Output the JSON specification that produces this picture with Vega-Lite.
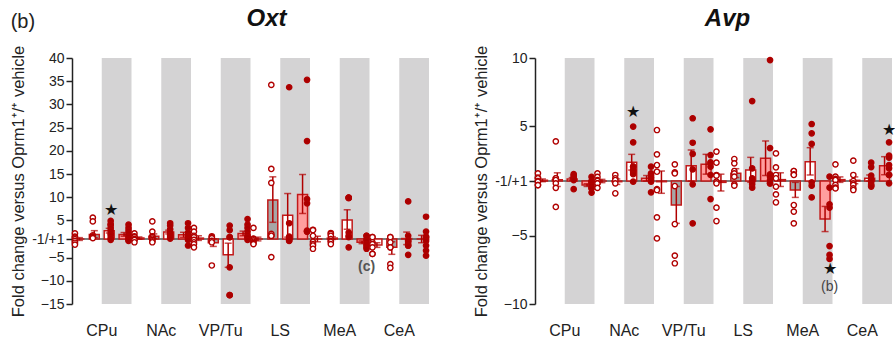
{
  "$schema": "https://vega.github.io/schema/vega-lite/v6.json",
  "background": "white",
  "padding": {"left": 10, "right": 0, "top": 7, "bottom": 0},
  "title": {"text": "(b)", "anchor": "start", "frame": "bounds", "fontSize": 20, "fontWeight": "normal", "color": "#222", "offset": 0, "dy": 25, "dx": 0},
  "spacing": 41,
  "config": {
    "font": "Liberation Sans",
    "view": {"stroke": null},
    "axisY": {"domainColor": "#222", "domainWidth": 1.5, "tickColor": "#222", "tickWidth": 1.5, "tickSize": 6, "tickCount": 30, "labelFontSize": 14, "labelColor": "#222", "labelPadding": 2, "labelOverlap": false, "titleFontSize": 16.5, "titleFontWeight": "normal", "titleColor": "#222", "titlePadding": 5, "grid": false},
    "axisX": {"domain": false, "ticks": false, "labelFontSize": 16, "labelColor": "#222", "labelPadding": 18, "labelAngle": 0, "grid": false}
  },
  "datasets": {
    "bands": [
      {"region": "CPu", "half": "g"}, {"region": "NAc", "half": "g"}, {"region": "VP/Tu", "half": "g"},
      {"region": "LS", "half": "g"}, {"region": "MeA", "half": "g"}, {"region": "CeA", "half": "g"}
    ],
    "oxt_bars": [
      {"region": "CPu", "cond": "c1", "mean": 0, "lo": -0.3, "hi": 0.3},
      {"region": "CPu", "cond": "c2", "mean": 1.0, "lo": 0.3, "hi": 1.8},
      {"region": "CPu", "cond": "c3", "mean": 1.8, "lo": 1.3, "hi": 2.3},
      {"region": "CPu", "cond": "c4", "mean": 1.0, "lo": 0.6, "hi": 1.4},
      {"region": "NAc", "cond": "c1", "mean": 0.2, "lo": -0.05, "hi": 0.45},
      {"region": "NAc", "cond": "c2", "mean": 0.6, "lo": 0.1, "hi": 1.1},
      {"region": "NAc", "cond": "c3", "mean": 1.5, "lo": 1.1, "hi": 1.9},
      {"region": "NAc", "cond": "c4", "mean": 0.9, "lo": 0.35, "hi": 1.45},
      {"region": "VP/Tu", "cond": "c1", "mean": 0.2, "lo": -0.3, "hi": 0.7},
      {"region": "VP/Tu", "cond": "c2", "mean": -0.8, "lo": -1.6, "hi": 0},
      {"region": "VP/Tu", "cond": "c3", "mean": -3.4, "lo": -6.1, "hi": -0.9},
      {"region": "VP/Tu", "cond": "c4", "mean": 1.2, "lo": 0.7, "hi": 1.7},
      {"region": "LS", "cond": "c1", "mean": 0, "lo": -0.4, "hi": 0.4},
      {"region": "LS", "cond": "c2", "mean": 8.4, "lo": 3.6, "hi": 13.4},
      {"region": "LS", "cond": "c3", "mean": 5.1, "lo": 0.4, "hi": 9.8},
      {"region": "LS", "cond": "c4", "mean": 9.6, "lo": 5.5, "hi": 13.9},
      {"region": "MeA", "cond": "c1", "mean": 0, "lo": -0.6, "hi": 0.6},
      {"region": "MeA", "cond": "c2", "mean": 0.2, "lo": -0.1, "hi": 0.5},
      {"region": "MeA", "cond": "c3", "mean": 4.1, "lo": 2.1, "hi": 6.3},
      {"region": "MeA", "cond": "c4", "mean": -0.7, "lo": -1.0, "hi": -0.4},
      {"region": "CeA", "cond": "c1", "mean": -1.3, "lo": -1.8, "hi": -0.8},
      {"region": "CeA", "cond": "c2", "mean": -1.8, "lo": -3.3, "hi": -0.6},
      {"region": "CeA", "cond": "c3", "mean": 0.1, "lo": -1.2, "hi": 1.5},
      {"region": "CeA", "cond": "c4", "mean": 0, "lo": -0.8, "hi": 0.8}
    ],
    "oxt_points": [
      {"region": "CPu", "cond": "c1", "value": 1.2}, {"region": "CPu", "cond": "c1", "value": 0.5}, {"region": "CPu", "cond": "c1", "value": 0.3}, {"region": "CPu", "cond": "c1", "value": 0}, {"region": "CPu", "cond": "c1", "value": -0.4}, {"region": "CPu", "cond": "c1", "value": -0.8}, {"region": "CPu", "cond": "c1", "value": -1.2},
      {"region": "CPu", "cond": "c2", "value": 4.6}, {"region": "CPu", "cond": "c2", "value": 3.8}, {"region": "CPu", "cond": "c2", "value": 0.8}, {"region": "CPu", "cond": "c2", "value": 0.6}, {"region": "CPu", "cond": "c2", "value": 0.4}, {"region": "CPu", "cond": "c2", "value": 0.3}, {"region": "CPu", "cond": "c2", "value": 0.2},
      {"region": "CPu", "cond": "c3", "value": 3.9}, {"region": "CPu", "cond": "c3", "value": 3.2}, {"region": "CPu", "cond": "c3", "value": 3.0}, {"region": "CPu", "cond": "c3", "value": 2.4}, {"region": "CPu", "cond": "c3", "value": 1.8}, {"region": "CPu", "cond": "c3", "value": 1.2}, {"region": "CPu", "cond": "c3", "value": 0.8}, {"region": "CPu", "cond": "c3", "value": 0.2}, {"region": "CPu", "cond": "c3", "value": -0.2},
      {"region": "CPu", "cond": "c4", "value": 3.1}, {"region": "CPu", "cond": "c4", "value": 2.4}, {"region": "CPu", "cond": "c4", "value": 1.8}, {"region": "CPu", "cond": "c4", "value": 1.2}, {"region": "CPu", "cond": "c4", "value": 0.7}, {"region": "CPu", "cond": "c4", "value": 0.4}, {"region": "CPu", "cond": "c4", "value": 0}, {"region": "CPu", "cond": "c4", "value": -0.2}, {"region": "CPu", "cond": "c4", "value": -0.4},
      {"region": "NAc", "cond": "c1", "value": 1.2}, {"region": "NAc", "cond": "c1", "value": 0.6}, {"region": "NAc", "cond": "c1", "value": 0.4}, {"region": "NAc", "cond": "c1", "value": 0}, {"region": "NAc", "cond": "c1", "value": 0}, {"region": "NAc", "cond": "c1", "value": -0.2}, {"region": "NAc", "cond": "c1", "value": -0.7},
      {"region": "NAc", "cond": "c2", "value": 3.8}, {"region": "NAc", "cond": "c2", "value": 1.6}, {"region": "NAc", "cond": "c2", "value": 0.6}, {"region": "NAc", "cond": "c2", "value": 0.4}, {"region": "NAc", "cond": "c2", "value": 0.1}, {"region": "NAc", "cond": "c2", "value": -0.2}, {"region": "NAc", "cond": "c2", "value": -0.5}, {"region": "NAc", "cond": "c2", "value": -0.7},
      {"region": "NAc", "cond": "c3", "value": 3.4}, {"region": "NAc", "cond": "c3", "value": 2.9}, {"region": "NAc", "cond": "c3", "value": 2.1}, {"region": "NAc", "cond": "c3", "value": 1.4}, {"region": "NAc", "cond": "c3", "value": 0.9}, {"region": "NAc", "cond": "c3", "value": 0.7}, {"region": "NAc", "cond": "c3", "value": 0.4}, {"region": "NAc", "cond": "c3", "value": 0.1},
      {"region": "NAc", "cond": "c4", "value": 3.4}, {"region": "NAc", "cond": "c4", "value": 2.4}, {"region": "NAc", "cond": "c4", "value": 1.4}, {"region": "NAc", "cond": "c4", "value": 0.7}, {"region": "NAc", "cond": "c4", "value": 0.4}, {"region": "NAc", "cond": "c4", "value": 0.1}, {"region": "NAc", "cond": "c4", "value": -0.2}, {"region": "NAc", "cond": "c4", "value": -1.4},
      {"region": "VP/Tu", "cond": "c1", "value": 2.4}, {"region": "VP/Tu", "cond": "c1", "value": 1.6}, {"region": "VP/Tu", "cond": "c1", "value": 0.7}, {"region": "VP/Tu", "cond": "c1", "value": 0.4}, {"region": "VP/Tu", "cond": "c1", "value": -0.2}, {"region": "VP/Tu", "cond": "c1", "value": -0.7}, {"region": "VP/Tu", "cond": "c1", "value": -1.1}, {"region": "VP/Tu", "cond": "c1", "value": -1.8},
      {"region": "VP/Tu", "cond": "c2", "value": 0.6}, {"region": "VP/Tu", "cond": "c2", "value": 0.4}, {"region": "VP/Tu", "cond": "c2", "value": 0.2}, {"region": "VP/Tu", "cond": "c2", "value": -0.4}, {"region": "VP/Tu", "cond": "c2", "value": -0.7}, {"region": "VP/Tu", "cond": "c2", "value": -5.7},
      {"region": "VP/Tu", "cond": "c3", "value": 2.9}, {"region": "VP/Tu", "cond": "c3", "value": 1.9}, {"region": "VP/Tu", "cond": "c3", "value": 0.4}, {"region": "VP/Tu", "cond": "c3", "value": 0.4}, {"region": "VP/Tu", "cond": "c3", "value": -6.1}, {"region": "VP/Tu", "cond": "c3", "value": -12.1}, {"region": "VP/Tu", "cond": "c3", "value": -12.1},
      {"region": "VP/Tu", "cond": "c4", "value": 4.3}, {"region": "VP/Tu", "cond": "c4", "value": 3.1}, {"region": "VP/Tu", "cond": "c4", "value": 2.4}, {"region": "VP/Tu", "cond": "c4", "value": 1.6}, {"region": "VP/Tu", "cond": "c4", "value": 0.9}, {"region": "VP/Tu", "cond": "c4", "value": 0.4}, {"region": "VP/Tu", "cond": "c4", "value": 0.4}, {"region": "VP/Tu", "cond": "c4", "value": -0.2},
      {"region": "LS", "cond": "c1", "value": 2.4}, {"region": "LS", "cond": "c1", "value": 0.1}, {"region": "LS", "cond": "c1", "value": 0}, {"region": "LS", "cond": "c1", "value": -0.3}, {"region": "LS", "cond": "c1", "value": -0.6}, {"region": "LS", "cond": "c1", "value": -0.9}, {"region": "LS", "cond": "c1", "value": -1.1},
      {"region": "LS", "cond": "c2", "value": 33.2}, {"region": "LS", "cond": "c2", "value": 15.1}, {"region": "LS", "cond": "c2", "value": 12.1}, {"region": "LS", "cond": "c2", "value": 1.1}, {"region": "LS", "cond": "c2", "value": 0.7}, {"region": "LS", "cond": "c2", "value": 0.7}, {"region": "LS", "cond": "c2", "value": -3.9},
      {"region": "LS", "cond": "c3", "value": 32.7}, {"region": "LS", "cond": "c3", "value": 3.4}, {"region": "LS", "cond": "c3", "value": 0.5}, {"region": "LS", "cond": "c3", "value": 0.1}, {"region": "LS", "cond": "c3", "value": 0}, {"region": "LS", "cond": "c3", "value": -0.3}, {"region": "LS", "cond": "c3", "value": -0.4},
      {"region": "LS", "cond": "c4", "value": 34.3}, {"region": "LS", "cond": "c4", "value": 21.1}, {"region": "LS", "cond": "c4", "value": 8.6}, {"region": "LS", "cond": "c4", "value": 7.7}, {"region": "LS", "cond": "c4", "value": 1.8}, {"region": "LS", "cond": "c4", "value": 1.6}, {"region": "LS", "cond": "c4", "value": 1.6},
      {"region": "MeA", "cond": "c1", "value": 2.0}, {"region": "MeA", "cond": "c1", "value": 1.9}, {"region": "MeA", "cond": "c1", "value": 0.7}, {"region": "MeA", "cond": "c1", "value": -0.6}, {"region": "MeA", "cond": "c1", "value": -1.1}, {"region": "MeA", "cond": "c1", "value": -1.4}, {"region": "MeA", "cond": "c1", "value": -2.1},
      {"region": "MeA", "cond": "c2", "value": 1.3}, {"region": "MeA", "cond": "c2", "value": 1.1}, {"region": "MeA", "cond": "c2", "value": 0.7}, {"region": "MeA", "cond": "c2", "value": 0}, {"region": "MeA", "cond": "c2", "value": -0.4}, {"region": "MeA", "cond": "c2", "value": -0.6}, {"region": "MeA", "cond": "c2", "value": -1.1},
      {"region": "MeA", "cond": "c3", "value": 8.9}, {"region": "MeA", "cond": "c3", "value": 8.8}, {"region": "MeA", "cond": "c3", "value": 8.9}, {"region": "MeA", "cond": "c3", "value": 1.4}, {"region": "MeA", "cond": "c3", "value": 0.7}, {"region": "MeA", "cond": "c3", "value": 0.4}, {"region": "MeA", "cond": "c3", "value": -1.8},
      {"region": "MeA", "cond": "c4", "value": 0.7}, {"region": "MeA", "cond": "c4", "value": 0.7}, {"region": "MeA", "cond": "c4", "value": 0}, {"region": "MeA", "cond": "c4", "value": -0.4}, {"region": "MeA", "cond": "c4", "value": -1.1}, {"region": "MeA", "cond": "c4", "value": -1.4}, {"region": "MeA", "cond": "c4", "value": -1.8}, {"region": "MeA", "cond": "c4", "value": -2.1},
      {"region": "CeA", "cond": "c1", "value": 0.4}, {"region": "CeA", "cond": "c1", "value": 0.4}, {"region": "CeA", "cond": "c1", "value": -0.7}, {"region": "CeA", "cond": "c1", "value": -1.1}, {"region": "CeA", "cond": "c1", "value": -1.8}, {"region": "CeA", "cond": "c1", "value": -3.2}, {"region": "CeA", "cond": "c1", "value": -3.2},
      {"region": "CeA", "cond": "c2", "value": 0.4}, {"region": "CeA", "cond": "c2", "value": 0.4}, {"region": "CeA", "cond": "c2", "value": -0.7}, {"region": "CeA", "cond": "c2", "value": -1.8}, {"region": "CeA", "cond": "c2", "value": -1.8}, {"region": "CeA", "cond": "c2", "value": -5.4}, {"region": "CeA", "cond": "c2", "value": -6.2},
      {"region": "CeA", "cond": "c3", "value": 8.1}, {"region": "CeA", "cond": "c3", "value": 0.7}, {"region": "CeA", "cond": "c3", "value": -0.4}, {"region": "CeA", "cond": "c3", "value": -0.4}, {"region": "CeA", "cond": "c3", "value": -0.9}, {"region": "CeA", "cond": "c3", "value": -1.4}, {"region": "CeA", "cond": "c3", "value": -1.4}, {"region": "CeA", "cond": "c3", "value": -3.4},
      {"region": "CeA", "cond": "c4", "value": 4.8}, {"region": "CeA", "cond": "c4", "value": 1.6}, {"region": "CeA", "cond": "c4", "value": 0.5}, {"region": "CeA", "cond": "c4", "value": 0.4}, {"region": "CeA", "cond": "c4", "value": 0}, {"region": "CeA", "cond": "c4", "value": -0.4}, {"region": "CeA", "cond": "c4", "value": -1.4}, {"region": "CeA", "cond": "c4", "value": -2.5}, {"region": "CeA", "cond": "c4", "value": -3.6}
    ],
    "oxt_stars": [{"region": "CPu", "cond": "c3", "value": 6.2, "label": "★"}],
    "oxt_notes": [{"region": "MeA", "cond": "c4", "value": -6.0, "label": "(c)"}],
    "avp_bars": [
      {"region": "CPu", "cond": "c1", "mean": 0.05, "lo": -0.05, "hi": 0.15},
      {"region": "CPu", "cond": "c2", "mean": 0.1, "lo": -0.4, "hi": 0.6},
      {"region": "CPu", "cond": "c3", "mean": 0.15, "lo": 0.05, "hi": 0.25},
      {"region": "CPu", "cond": "c4", "mean": -0.3, "lo": -0.4, "hi": -0.2},
      {"region": "NAc", "cond": "c1", "mean": 0, "lo": -0.12, "hi": 0.12},
      {"region": "NAc", "cond": "c2", "mean": -0.05, "lo": -0.25, "hi": 0.15},
      {"region": "NAc", "cond": "c3", "mean": 1.37, "lo": 0.8, "hi": 1.95},
      {"region": "NAc", "cond": "c4", "mean": 0.2, "lo": 0, "hi": 0.4},
      {"region": "VP/Tu", "cond": "c1", "mean": -0.05, "lo": -0.9, "hi": 0.73},
      {"region": "VP/Tu", "cond": "c2", "mean": -1.76, "lo": -3.1, "hi": -0.4},
      {"region": "VP/Tu", "cond": "c3", "mean": 1.12, "lo": 0, "hi": 2.27},
      {"region": "VP/Tu", "cond": "c4", "mean": 1.22, "lo": 0.5, "hi": 1.95},
      {"region": "LS", "cond": "c1", "mean": -0.1, "lo": -0.73, "hi": 0.5},
      {"region": "LS", "cond": "c2", "mean": 0.56, "lo": 0.25, "hi": 0.9},
      {"region": "LS", "cond": "c3", "mean": 0.8, "lo": -0.1, "hi": 1.73},
      {"region": "LS", "cond": "c4", "mean": 1.66, "lo": 0.4, "hi": 2.93},
      {"region": "MeA", "cond": "c1", "mean": 0.1, "lo": -0.4, "hi": 0.6},
      {"region": "MeA", "cond": "c2", "mean": -0.66, "lo": -1.2, "hi": -0.1},
      {"region": "MeA", "cond": "c3", "mean": 1.41, "lo": 0.44, "hi": 2.44},
      {"region": "MeA", "cond": "c4", "mean": -2.78, "lo": -3.7, "hi": -1.86},
      {"region": "CeA", "cond": "c1", "mean": 0.1, "lo": -0.1, "hi": 0.3},
      {"region": "CeA", "cond": "c2", "mean": 0.05, "lo": -0.2, "hi": 0.3},
      {"region": "CeA", "cond": "c3", "mean": 0.2, "lo": 0, "hi": 0.44},
      {"region": "CeA", "cond": "c4", "mean": 1.12, "lo": 0.46, "hi": 1.78}
    ],
    "avp_points": [
      {"region": "CPu", "cond": "c1", "value": 0.56}, {"region": "CPu", "cond": "c1", "value": 0.24}, {"region": "CPu", "cond": "c1", "value": 0.2}, {"region": "CPu", "cond": "c1", "value": 0}, {"region": "CPu", "cond": "c1", "value": -0.05}, {"region": "CPu", "cond": "c1", "value": -0.3}, {"region": "CPu", "cond": "c1", "value": -0.3},
      {"region": "CPu", "cond": "c2", "value": 2.9}, {"region": "CPu", "cond": "c2", "value": 0.2}, {"region": "CPu", "cond": "c2", "value": 0.2}, {"region": "CPu", "cond": "c2", "value": 0.07}, {"region": "CPu", "cond": "c2", "value": -0.17}, {"region": "CPu", "cond": "c2", "value": -0.5}, {"region": "CPu", "cond": "c2", "value": -1.9},
      {"region": "CPu", "cond": "c3", "value": 0.5}, {"region": "CPu", "cond": "c3", "value": 0.4}, {"region": "CPu", "cond": "c3", "value": 0.24}, {"region": "CPu", "cond": "c3", "value": 0.2}, {"region": "CPu", "cond": "c3", "value": 0.15}, {"region": "CPu", "cond": "c3", "value": 0.07}, {"region": "CPu", "cond": "c3", "value": -0.6},
      {"region": "CPu", "cond": "c4", "value": 0.3}, {"region": "CPu", "cond": "c4", "value": 0}, {"region": "CPu", "cond": "c4", "value": -0.05}, {"region": "CPu", "cond": "c4", "value": -0.17}, {"region": "CPu", "cond": "c4", "value": -0.34}, {"region": "CPu", "cond": "c4", "value": -0.5}, {"region": "CPu", "cond": "c4", "value": -0.54}, {"region": "CPu", "cond": "c4", "value": -0.85},
      {"region": "NAc", "cond": "c1", "value": 0.56}, {"region": "NAc", "cond": "c1", "value": 0.3}, {"region": "NAc", "cond": "c1", "value": 0.07}, {"region": "NAc", "cond": "c1", "value": 0}, {"region": "NAc", "cond": "c1", "value": -0.17}, {"region": "NAc", "cond": "c1", "value": -0.17}, {"region": "NAc", "cond": "c1", "value": -0.5},
      {"region": "NAc", "cond": "c2", "value": 0.44}, {"region": "NAc", "cond": "c2", "value": 0.2}, {"region": "NAc", "cond": "c2", "value": 0.07}, {"region": "NAc", "cond": "c2", "value": -0.17}, {"region": "NAc", "cond": "c2", "value": -0.9},
      {"region": "NAc", "cond": "c3", "value": 3.98}, {"region": "NAc", "cond": "c3", "value": 2.83}, {"region": "NAc", "cond": "c3", "value": 1.05}, {"region": "NAc", "cond": "c3", "value": 1.05}, {"region": "NAc", "cond": "c3", "value": 0.8}, {"region": "NAc", "cond": "c3", "value": 0.68}, {"region": "NAc", "cond": "c3", "value": 0.5}, {"region": "NAc", "cond": "c3", "value": -0.05},
      {"region": "NAc", "cond": "c4", "value": 1.05}, {"region": "NAc", "cond": "c4", "value": 0.56}, {"region": "NAc", "cond": "c4", "value": 0.44}, {"region": "NAc", "cond": "c4", "value": 0.3}, {"region": "NAc", "cond": "c4", "value": 0.2}, {"region": "NAc", "cond": "c4", "value": 0.07}, {"region": "NAc", "cond": "c4", "value": -0.05}, {"region": "NAc", "cond": "c4", "value": -0.83},
      {"region": "VP/Tu", "cond": "c1", "value": 3.73}, {"region": "VP/Tu", "cond": "c1", "value": 1.95}, {"region": "VP/Tu", "cond": "c1", "value": 1.17}, {"region": "VP/Tu", "cond": "c1", "value": 0.68}, {"region": "VP/Tu", "cond": "c1", "value": -0.59}, {"region": "VP/Tu", "cond": "c1", "value": -0.66}, {"region": "VP/Tu", "cond": "c1", "value": -2.66}, {"region": "VP/Tu", "cond": "c1", "value": -4.2},
      {"region": "VP/Tu", "cond": "c2", "value": 1.22}, {"region": "VP/Tu", "cond": "c2", "value": 0.63}, {"region": "VP/Tu", "cond": "c2", "value": 0.56}, {"region": "VP/Tu", "cond": "c2", "value": -0.37}, {"region": "VP/Tu", "cond": "c2", "value": -3.15}, {"region": "VP/Tu", "cond": "c2", "value": -5.46}, {"region": "VP/Tu", "cond": "c2", "value": -6.02},
      {"region": "VP/Tu", "cond": "c3", "value": 4.59}, {"region": "VP/Tu", "cond": "c3", "value": 2.8}, {"region": "VP/Tu", "cond": "c3", "value": 1.98}, {"region": "VP/Tu", "cond": "c3", "value": 0.85}, {"region": "VP/Tu", "cond": "c3", "value": -0.24}, {"region": "VP/Tu", "cond": "c3", "value": -3.1},
      {"region": "VP/Tu", "cond": "c4", "value": 3.78}, {"region": "VP/Tu", "cond": "c4", "value": 1.9}, {"region": "VP/Tu", "cond": "c4", "value": 1.37}, {"region": "VP/Tu", "cond": "c4", "value": 1.3}, {"region": "VP/Tu", "cond": "c4", "value": 1.05}, {"region": "VP/Tu", "cond": "c4", "value": 0.44}, {"region": "VP/Tu", "cond": "c4", "value": -1.32},
      {"region": "LS", "cond": "c1", "value": 2.15}, {"region": "LS", "cond": "c1", "value": 1.34}, {"region": "LS", "cond": "c1", "value": 0.44}, {"region": "LS", "cond": "c1", "value": 0.39}, {"region": "LS", "cond": "c1", "value": -0.05}, {"region": "LS", "cond": "c1", "value": -0.17}, {"region": "LS", "cond": "c1", "value": -1.95}, {"region": "LS", "cond": "c1", "value": -2.93},
      {"region": "LS", "cond": "c2", "value": 1.61}, {"region": "LS", "cond": "c2", "value": 1.29}, {"region": "LS", "cond": "c2", "value": 0.73}, {"region": "LS", "cond": "c2", "value": 0.56}, {"region": "LS", "cond": "c2", "value": 0.32}, {"region": "LS", "cond": "c2", "value": -0.24}, {"region": "LS", "cond": "c2", "value": -0.34},
      {"region": "LS", "cond": "c3", "value": 5.85}, {"region": "LS", "cond": "c3", "value": 0.93}, {"region": "LS", "cond": "c3", "value": 0.2}, {"region": "LS", "cond": "c3", "value": 0.07}, {"region": "LS", "cond": "c3", "value": -0.05}, {"region": "LS", "cond": "c3", "value": -0.24}, {"region": "LS", "cond": "c3", "value": -0.49},
      {"region": "LS", "cond": "c4", "value": 8.85}, {"region": "LS", "cond": "c4", "value": 2.41}, {"region": "LS", "cond": "c4", "value": 0.49}, {"region": "LS", "cond": "c4", "value": 0.32}, {"region": "LS", "cond": "c4", "value": 0.07}, {"region": "LS", "cond": "c4", "value": -0.17}, {"region": "LS", "cond": "c4", "value": -0.17},
      {"region": "MeA", "cond": "c1", "value": 2.02}, {"region": "MeA", "cond": "c1", "value": 1.0}, {"region": "MeA", "cond": "c1", "value": 0.44}, {"region": "MeA", "cond": "c1", "value": 0.2}, {"region": "MeA", "cond": "c1", "value": -0.41}, {"region": "MeA", "cond": "c1", "value": -0.98}, {"region": "MeA", "cond": "c1", "value": -1.56},
      {"region": "MeA", "cond": "c2", "value": 0.73}, {"region": "MeA", "cond": "c2", "value": 0.73}, {"region": "MeA", "cond": "c2", "value": 0.49}, {"region": "MeA", "cond": "c2", "value": 0.44}, {"region": "MeA", "cond": "c2", "value": -1.76}, {"region": "MeA", "cond": "c2", "value": -2.24}, {"region": "MeA", "cond": "c2", "value": -3.1},
      {"region": "MeA", "cond": "c3", "value": 4.17}, {"region": "MeA", "cond": "c3", "value": 3.49}, {"region": "MeA", "cond": "c3", "value": 2.71}, {"region": "MeA", "cond": "c3", "value": -0.1}, {"region": "MeA", "cond": "c3", "value": -0.34}, {"region": "MeA", "cond": "c3", "value": -1.2},
      {"region": "MeA", "cond": "c4", "value": 0.32}, {"region": "MeA", "cond": "c4", "value": -0.49}, {"region": "MeA", "cond": "c4", "value": -1.71}, {"region": "MeA", "cond": "c4", "value": -1.95}, {"region": "MeA", "cond": "c4", "value": -4.76}, {"region": "MeA", "cond": "c4", "value": -5.41}, {"region": "MeA", "cond": "c4", "value": -5.7},
      {"region": "CeA", "cond": "c1", "value": 1.22}, {"region": "CeA", "cond": "c1", "value": 0.32}, {"region": "CeA", "cond": "c1", "value": 0.15}, {"region": "CeA", "cond": "c1", "value": 0.07}, {"region": "CeA", "cond": "c1", "value": -0.29}, {"region": "CeA", "cond": "c1", "value": -0.49}, {"region": "CeA", "cond": "c1", "value": -0.54},
      {"region": "CeA", "cond": "c2", "value": 1.49}, {"region": "CeA", "cond": "c2", "value": 0.44}, {"region": "CeA", "cond": "c2", "value": 0}, {"region": "CeA", "cond": "c2", "value": -0.17}, {"region": "CeA", "cond": "c2", "value": -0.29}, {"region": "CeA", "cond": "c2", "value": -0.54}, {"region": "CeA", "cond": "c2", "value": -0.66},
      {"region": "CeA", "cond": "c3", "value": 1.34}, {"region": "CeA", "cond": "c3", "value": 1.02}, {"region": "CeA", "cond": "c3", "value": 0.39}, {"region": "CeA", "cond": "c3", "value": 0.15}, {"region": "CeA", "cond": "c3", "value": 0.07}, {"region": "CeA", "cond": "c3", "value": -0.05}, {"region": "CeA", "cond": "c3", "value": -0.24}, {"region": "CeA", "cond": "c3", "value": -0.34}, {"region": "CeA", "cond": "c3", "value": -0.41},
      {"region": "CeA", "cond": "c4", "value": 2.83}, {"region": "CeA", "cond": "c4", "value": 1.85}, {"region": "CeA", "cond": "c4", "value": 1.71}, {"region": "CeA", "cond": "c4", "value": 1.17}, {"region": "CeA", "cond": "c4", "value": 0.93}, {"region": "CeA", "cond": "c4", "value": 0.44}, {"region": "CeA", "cond": "c4", "value": 0.44}, {"region": "CeA", "cond": "c4", "value": -0.17}
    ],
    "avp_stars": [
      {"region": "NAc", "cond": "c3", "value": 5.07, "label": "★"},
      {"region": "MeA", "cond": "c4", "value": -6.46, "label": "★"},
      {"region": "CeA", "cond": "c4", "value": 3.73, "label": "★"}
    ],
    "avp_notes": [{"region": "MeA", "cond": "c4", "value": -7.73, "label": "(b)"}]
  },
  "hconcat": [
    {
      "width": 357,
      "height": 246,
      "title": {"text": "Oxt", "fontSize": 24, "fontWeight": "bold", "fontStyle": "italic", "color": "#111", "dx": 16, "offset": 14},
      "resolve": {"scale": {"xOffset": "independent"}},
      "layer": [
        {
          "data": {"name": "bands"},
          "mark": {"type": "bar", "color": "#d4d3d4"},
          "encoding": {
            "x": {"field": "region", "type": "nominal", "title": null, "scale": {"domain": ["CPu", "NAc", "VP/Tu", "LS", "MeA", "CeA"], "paddingInner": 0, "paddingOuter": 0}},
            "xOffset": {"field": "half", "type": "nominal", "scale": {"domain": ["w", "g"], "paddingInner": 0, "paddingOuter": 0}},
            "y": {"datum": -14, "type": "quantitative"},
            "y2": {"datum": 39}
          }
        },
        {
          "data": {"values": [{}]},
          "mark": {"type": "rule", "color": "#555555", "strokeWidth": 1.5},
          "encoding": {"y": {"datum": 0, "type": "quantitative"}}
        },
        {
          "data": {"name": "oxt_bars"},
          "mark": {"type": "bar", "stroke": "#c21a1a", "strokeWidth": 1.5},
          "encoding": {
            "x": {"field": "region", "type": "nominal", "title": null},
            "xOffset": {"field": "cond", "type": "nominal", "scale": {"domain": ["c1", "c2", "c3", "c4"], "paddingInner": 0.33, "paddingOuter": 0.165}},
            "y": {"field": "mean", "type": "quantitative", "title": "Fold change versus Oprm1⁺/⁺ vehicle", "scale": {"domain": [-14, 39], "nice": false, "zero": false}, "axis": {"values": [39, 34, 29, 24, 19, 14, 9, 4, 0, -4, -9, -14], "tickCount": 30, "labelOverlap": false, "labelExpr": "datum.value > 0 ? format(datum.value + 1, 'd') : (datum.value < 0 ? format(datum.value - 1, 'd') : '-1/+1')"}},
            "y2": {"datum": 0},
            "fill": {"condition": [{"test": "datum.cond == 'c2'", "value": "#a6a6a6"}, {"test": "datum.cond == 'c4'", "value": "#ff9e9e"}], "value": "white"}
          }
        },
        {
          "data": {"name": "oxt_bars"},
          "mark": {"type": "rule", "color": "#b00000", "strokeWidth": 1.5},
          "encoding": {
            "x": {"field": "region", "type": "nominal", "title": null},
            "xOffset": {"field": "cond", "type": "nominal", "scale": {"domain": ["c1", "c2", "c3", "c4"], "paddingInner": 0.33, "paddingOuter": 0.165}},
            "y": {"field": "lo", "type": "quantitative", "title": "Fold change versus Oprm1⁺/⁺ vehicle"},
            "y2": {"field": "hi"}
          }
        },
        {
          "data": {"name": "oxt_bars"},
          "mark": {"type": "tick", "color": "#b00000", "thickness": 1.5, "size": 7},
          "encoding": {
            "x": {"field": "region", "type": "nominal", "title": null},
            "xOffset": {"field": "cond", "type": "nominal", "scale": {"domain": ["c1", "c2", "c3", "c4"], "paddingInner": 0.33, "paddingOuter": 0.165}},
            "y": {"field": "lo", "type": "quantitative", "title": "Fold change versus Oprm1⁺/⁺ vehicle"}
          }
        },
        {
          "data": {"name": "oxt_bars"},
          "mark": {"type": "tick", "color": "#b00000", "thickness": 1.5, "size": 7},
          "encoding": {
            "x": {"field": "region", "type": "nominal", "title": null},
            "xOffset": {"field": "cond", "type": "nominal", "scale": {"domain": ["c1", "c2", "c3", "c4"], "paddingInner": 0.33, "paddingOuter": 0.165}},
            "y": {"field": "hi", "type": "quantitative", "title": "Fold change versus Oprm1⁺/⁺ vehicle"}
          }
        },
        {
          "data": {"name": "oxt_points"},
          "mark": {"type": "point", "filled": true, "size": 28, "stroke": "#b00000", "strokeWidth": 1.4, "opacity": 1},
          "encoding": {
            "x": {"field": "region", "type": "nominal", "title": null},
            "xOffset": {"field": "cond", "type": "nominal", "scale": {"domain": ["c1", "c2", "c3", "c4"], "paddingInner": 0.33, "paddingOuter": 0.165}},
            "y": {"field": "value", "type": "quantitative", "title": "Fold change versus Oprm1⁺/⁺ vehicle"},
            "fill": {"condition": {"test": "datum.cond == 'c3' || datum.cond == 'c4'", "value": "#a80000"}, "value": "white"}
          }
        },
        {
          "data": {"name": "oxt_stars"},
          "mark": {"type": "text", "fontSize": 16, "color": "#111", "baseline": "middle"},
          "encoding": {
            "x": {"field": "region", "type": "nominal", "title": null},
            "xOffset": {"field": "cond", "type": "nominal", "scale": {"domain": ["c1", "c2", "c3", "c4"], "paddingInner": 0.33, "paddingOuter": 0.165}},
            "y": {"field": "value", "type": "quantitative", "title": "Fold change versus Oprm1⁺/⁺ vehicle"},
            "text": {"field": "label"}
          }
        },
        {
          "data": {"name": "oxt_notes"},
          "mark": {"type": "text", "fontSize": 14, "fontWeight": "bold", "color": "#555555", "baseline": "middle"},
          "encoding": {
            "x": {"field": "region", "type": "nominal", "title": null},
            "xOffset": {"field": "cond", "type": "nominal", "scale": {"domain": ["c1", "c2", "c3", "c4"], "paddingInner": 0.33, "paddingOuter": 0.165}},
            "y": {"field": "value", "type": "quantitative", "title": "Fold change versus Oprm1⁺/⁺ vehicle"},
            "text": {"field": "label"}
          }
        }
      ]
    },
    {
      "width": 357,
      "height": 246,
      "title": {"text": "Avp", "fontSize": 24, "fontWeight": "bold", "fontStyle": "italic", "color": "#111", "dx": 14, "offset": 14},
      "resolve": {"scale": {"xOffset": "independent"}},
      "layer": [
        {
          "data": {"name": "bands"},
          "mark": {"type": "bar", "color": "#d4d3d4"},
          "encoding": {
            "x": {"field": "region", "type": "nominal", "title": null, "scale": {"domain": ["CPu", "NAc", "VP/Tu", "LS", "MeA", "CeA"], "paddingInner": 0, "paddingOuter": 0}},
            "xOffset": {"field": "half", "type": "nominal", "scale": {"domain": ["w", "g"], "paddingInner": 0, "paddingOuter": 0}},
            "y": {"datum": -9, "type": "quantitative"},
            "y2": {"datum": 9}
          }
        },
        {
          "data": {"values": [{}]},
          "mark": {"type": "rule", "color": "#555555", "strokeWidth": 1.5},
          "encoding": {"y": {"datum": 0, "type": "quantitative"}}
        },
        {
          "data": {"name": "avp_bars"},
          "mark": {"type": "bar", "stroke": "#c21a1a", "strokeWidth": 1.5},
          "encoding": {
            "x": {"field": "region", "type": "nominal", "title": null},
            "xOffset": {"field": "cond", "type": "nominal", "scale": {"domain": ["c1", "c2", "c3", "c4"], "paddingInner": 0.33, "paddingOuter": 0.165}},
            "y": {"field": "mean", "type": "quantitative", "title": "Fold change versus Oprm1⁺/⁺ vehicle", "scale": {"domain": [-9, 9], "nice": false, "zero": false}, "axis": {"values": [9, 4, 0, -4, -9], "tickCount": 30, "labelOverlap": false, "labelExpr": "datum.value > 0 ? format(datum.value + 1, 'd') : (datum.value < 0 ? format(datum.value - 1, 'd') : '-1/+1')"}},
            "y2": {"datum": 0},
            "fill": {"condition": [{"test": "datum.cond == 'c2'", "value": "#a6a6a6"}, {"test": "datum.cond == 'c4'", "value": "#ff9e9e"}], "value": "white"}
          }
        },
        {
          "data": {"name": "avp_bars"},
          "mark": {"type": "rule", "color": "#b00000", "strokeWidth": 1.5},
          "encoding": {
            "x": {"field": "region", "type": "nominal", "title": null},
            "xOffset": {"field": "cond", "type": "nominal", "scale": {"domain": ["c1", "c2", "c3", "c4"], "paddingInner": 0.33, "paddingOuter": 0.165}},
            "y": {"field": "lo", "type": "quantitative", "title": "Fold change versus Oprm1⁺/⁺ vehicle"},
            "y2": {"field": "hi"}
          }
        },
        {
          "data": {"name": "avp_bars"},
          "mark": {"type": "tick", "color": "#b00000", "thickness": 1.5, "size": 7},
          "encoding": {
            "x": {"field": "region", "type": "nominal", "title": null},
            "xOffset": {"field": "cond", "type": "nominal", "scale": {"domain": ["c1", "c2", "c3", "c4"], "paddingInner": 0.33, "paddingOuter": 0.165}},
            "y": {"field": "lo", "type": "quantitative", "title": "Fold change versus Oprm1⁺/⁺ vehicle"}
          }
        },
        {
          "data": {"name": "avp_bars"},
          "mark": {"type": "tick", "color": "#b00000", "thickness": 1.5, "size": 7},
          "encoding": {
            "x": {"field": "region", "type": "nominal", "title": null},
            "xOffset": {"field": "cond", "type": "nominal", "scale": {"domain": ["c1", "c2", "c3", "c4"], "paddingInner": 0.33, "paddingOuter": 0.165}},
            "y": {"field": "hi", "type": "quantitative", "title": "Fold change versus Oprm1⁺/⁺ vehicle"}
          }
        },
        {
          "data": {"name": "avp_points"},
          "mark": {"type": "point", "filled": true, "size": 28, "stroke": "#b00000", "strokeWidth": 1.4, "opacity": 1},
          "encoding": {
            "x": {"field": "region", "type": "nominal", "title": null},
            "xOffset": {"field": "cond", "type": "nominal", "scale": {"domain": ["c1", "c2", "c3", "c4"], "paddingInner": 0.33, "paddingOuter": 0.165}},
            "y": {"field": "value", "type": "quantitative", "title": "Fold change versus Oprm1⁺/⁺ vehicle"},
            "fill": {"condition": {"test": "datum.cond == 'c3' || datum.cond == 'c4'", "value": "#a80000"}, "value": "white"}
          }
        },
        {
          "data": {"name": "avp_stars"},
          "mark": {"type": "text", "fontSize": 16, "color": "#111", "baseline": "middle"},
          "encoding": {
            "x": {"field": "region", "type": "nominal", "title": null},
            "xOffset": {"field": "cond", "type": "nominal", "scale": {"domain": ["c1", "c2", "c3", "c4"], "paddingInner": 0.33, "paddingOuter": 0.165}},
            "y": {"field": "value", "type": "quantitative", "title": "Fold change versus Oprm1⁺/⁺ vehicle"},
            "text": {"field": "label"}
          }
        },
        {
          "data": {"name": "avp_notes"},
          "mark": {"type": "text", "fontSize": 14, "color": "#444444", "baseline": "middle"},
          "encoding": {
            "x": {"field": "region", "type": "nominal", "title": null},
            "xOffset": {"field": "cond", "type": "nominal", "scale": {"domain": ["c1", "c2", "c3", "c4"], "paddingInner": 0.33, "paddingOuter": 0.165}},
            "y": {"field": "value", "type": "quantitative", "title": "Fold change versus Oprm1⁺/⁺ vehicle"},
            "text": {"field": "label"}
          }
        }
      ]
    }
  ]
}
